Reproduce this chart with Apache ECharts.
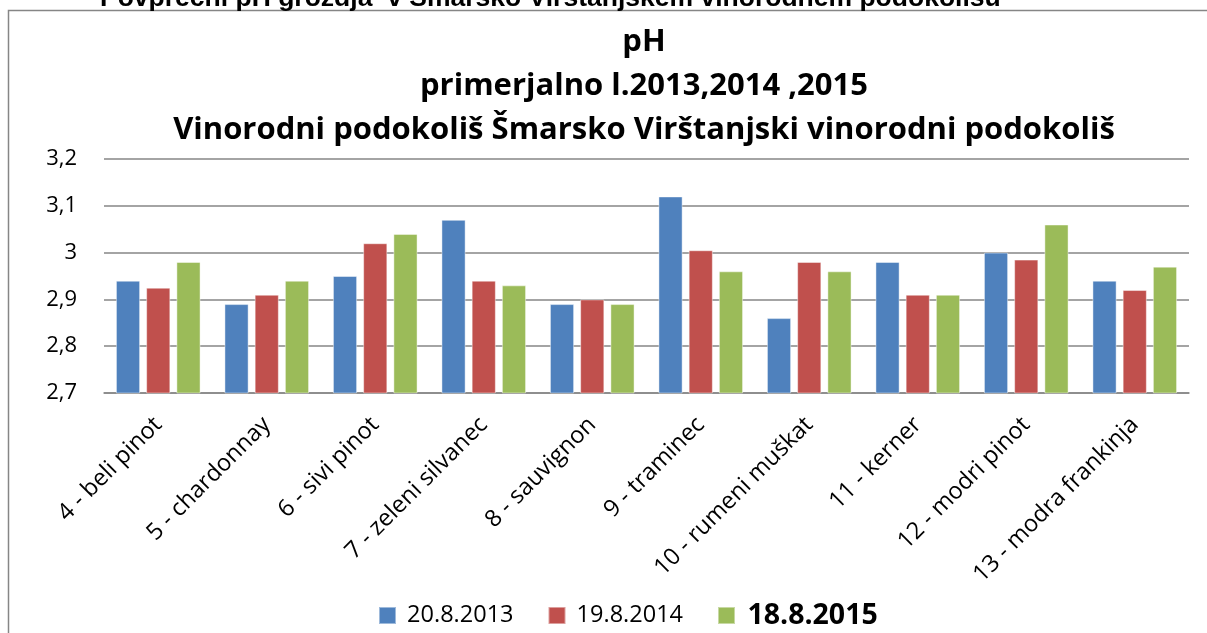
<!DOCTYPE html>
<html>
<head>
<meta charset="utf-8">
<style>
html,body{margin:0;padding:0;background:#fff;}
#chart{width:1207px;height:633px;}
</style>
<script src="https://cdn.jsdelivr.net/npm/echarts@6/dist/echarts.min.js"></script>
</head>
<body>
<div id="chart"></div>
<script>
const categories = ['4 - beli pinot','5 - chardonnay','6 - sivi pinot','7 - zeleni silvanec','8 - sauvignon','9 - traminec','10 - rumeni muškat','11 - kerner','12 - modri pinot','13 - modra frankinja'];
const seriesNames = ['20.8.2013','19.8.2014','18.8.2015'];
const values2013 = [2.94, 2.89, 2.95, 3.07, 2.89, 3.12, 2.86, 2.98, 3.00, 2.94];
const values2014 = [2.925, 2.91, 3.02, 2.94, 2.90, 3.005, 2.98, 2.91, 2.985, 2.92];
const values2015 = [2.98, 2.94, 3.04, 2.93, 2.89, 2.96, 2.96, 2.91, 3.06, 2.97];
const yTicks = {min: 2.7, max: 3.2, interval: 0.1};
const titleLines = ['pH', 'primerjalno l.2013,2014 ,2015', 'Vinorodni podokoliš Šmarsko Virštanjski vinorodni podokoliš'];
const topCutText = 'Povprečni pH grozdja  v Šmarsko Virštanjskem vinorodnem podokolišu';

const colors = ['#4F81BD', '#C0504D', '#9BBB59'];
const font = '"Open Sans", Lato, sans-serif';
const chart = echarts.init(document.getElementById('chart'), null, {renderer: 'canvas'});
const allValues = [values2013, values2014, values2015];

chart.setOption({
  animation: false,
  color: colors,
  graphic: [
    {type: 'rect', silent: true, z: -1,
      shape: {x: 8.5, y: 10.5, width: 1400, height: 1000},
      style: {fill: 'none', stroke: '#868686', lineWidth: 1.5}},
    {type: 'text', silent: true, left: 100, top: -15,
      style: {text: topCutText, font: 'bold 26.5px "Liberation Sans", Arial, sans-serif', fill: '#000'}}
  ],
  title: {
    text: titleLines.join('\n'),
    left: 639, top: 15, textAlign: 'center',
    textStyle: {fontFamily: font, fontWeight: 'bold', fontSize: 31, lineHeight: 44, color: '#000'}
  },
  legend: {
    top: 596, left: 373,
    itemWidth: 17, itemHeight: 17, itemGap: 34,
    icon: 'rect',
    formatter: name => ' ' + name,
    textStyle: {fontFamily: font, fontSize: 23.5, color: '#000'},
    data: [
      {name: seriesNames[0]},
      {name: seriesNames[1]},
      {name: seriesNames[2], textStyle: {fontWeight: 'bold', fontSize: 28.5}}
    ]
  },
  grid: {left: 104, right: 18, top: 159, bottom: 240, containLabel: false},
  xAxis: {
    type: 'category',
    data: categories,
    axisLine: {lineStyle: {color: '#868686', width: 1.5}},
    axisTick: {show: false},
    axisLabel: {rotate: 45, interval: 0, margin: 28, fontFamily: font, fontSize: 23.5, color: '#000'}
  },
  yAxis: {
    type: 'value',
    min: yTicks.min, max: yTicks.max, interval: yTicks.interval,
    axisLine: {show: false},
    axisTick: {show: false},
    splitLine: {lineStyle: {color: '#868686', width: 1.5}},
    axisLabel: {
      margin: 27, fontFamily: font, fontSize: 22, color: '#000',
      formatter: v => String(Number(v.toFixed(2))).replace('.', ',')
    }
  },
  series: seriesNames.map((name, i) => ({
    name, type: 'bar',
    data: allValues[i],
    barGap: '25%', barCategoryGap: '22%',
    itemStyle: {color: colors[i], borderColor: 'rgba(255,255,255,0.45)', borderWidth: 1}
  }))
});
</script>
</body>
</html>
